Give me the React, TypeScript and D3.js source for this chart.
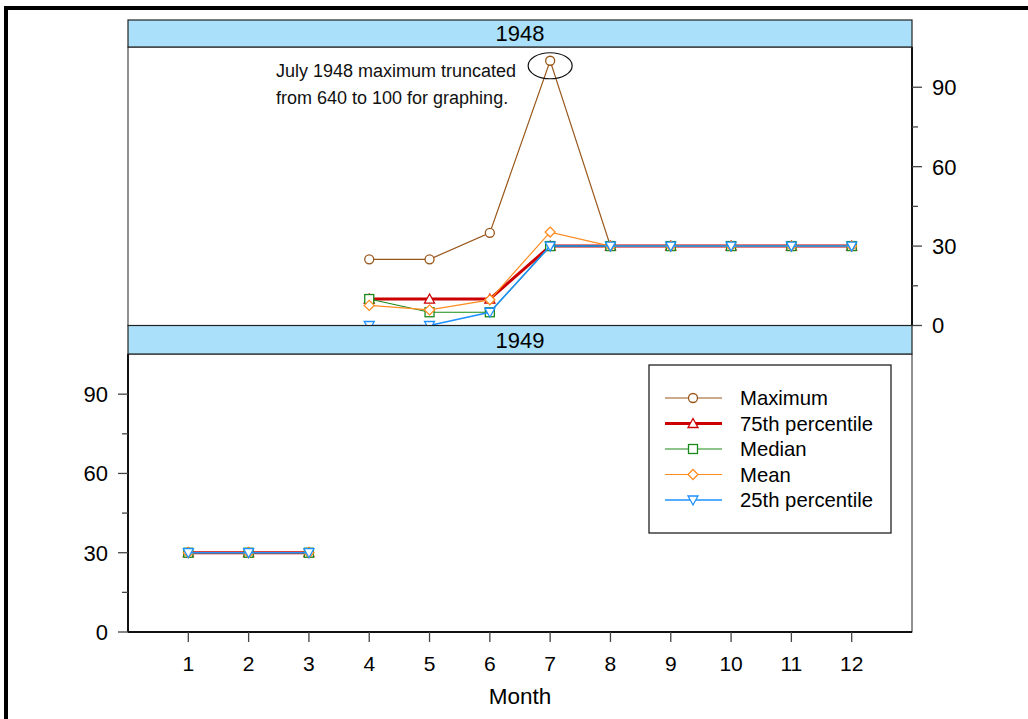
import React, { useEffect, useRef } from "react";
import * as d3 from "d3";

// months shown on the x axis
const months = [1, 2, 3, 4, 5, 6, 7, 8, 9, 10, 11, 12];
const yTicks = [0, 30, 60, 90];
const yMinorTicks = [15, 45, 75];

// 1948 panel (months 4-12)
const months1948 = [4, 5, 6, 7, 8, 9, 10, 11, 12];
const max1948 = [25, 25, 35, 100, 30, 30, 30, 30, 30];
const p75_1948 = [10, 10, 10, 30, 30, 30, 30, 30, 30];
const median1948 = [10, 5, 5, 30, 30, 30, 30, 30, 30];
const mean1948 = [7.6, 5.9, 9.7, 35.3, 30, 30, 30, 30, 30];
const p25_1948 = [0, 0, 5, 30, 30, 30, 30, 30, 30];

// 1949 panel (months 1-3)
const months1949 = [1, 2, 3];
const max1949 = [30, 30, 30];
const p75_1949 = [30, 30, 30];
const median1949 = [30, 30, 30];
const mean1949 = [30, 30, 30];
const p25_1949 = [30, 30, 30];

const seriesNames = ["Maximum", "75th percentile", "Median", "Mean", "25th percentile"];

const styles = [
  { color: "#99561a", width: 1.2, marker: "circle" },
  { color: "#cc0000", width: 3, marker: "triangleUp" },
  { color: "#1a8a1a", width: 1.2, marker: "square" },
  { color: "#ff8c1f", width: 1.2, marker: "diamond" },
  { color: "#1e90ff", width: 1.5, marker: "triangleDown" },
];

const FONT = "'Liberation Sans', Arial, sans-serif";

const drawMarker = (g, type, x, y, color) => {
  let p;
  if (type === "circle") {
    p = g.append("circle").attr("cx", x).attr("cy", y).attr("r", 4.5);
  } else if (type === "square") {
    p = g.append("rect").attr("x", x - 4.5).attr("y", y - 4.5).attr("width", 9).attr("height", 9);
  } else if (type === "diamond") {
    p = g.append("path").attr("d", `M${x},${y - 5}L${x + 5},${y}L${x},${y + 5}L${x - 5},${y}Z`);
  } else if (type === "triangleUp") {
    p = g.append("path").attr("d", `M${x},${y - 5}L${x + 5},${y + 4}L${x - 5},${y + 4}Z`);
  } else {
    p = g.append("path").attr("d", `M${x - 5},${y - 4}L${x + 5},${y - 4}L${x},${y + 5}Z`);
  }
  p.attr("fill", "white").attr("stroke", color).attr("stroke-width", 1.3);
};

const App = () => {
  const ref = useRef(null);

  useEffect(() => {
    const svg = d3.select(ref.current);
    svg.selectAll("*").remove();

    const left = 128;
    const right = 912;
    const x = d3.scaleLinear().domain([0, 13]).range([left, right]);

    const panels = [
      {
        label: "1948",
        stripTop: 20,
        top: 47,
        bottom: 325.5,
        axis: "right",
        months: months1948,
        series: [max1948, p75_1948, median1948, mean1948, p25_1948],
      },
      {
        label: "1949",
        stripTop: 325.5,
        top: 354,
        bottom: 632,
        axis: "left",
        months: months1949,
        series: [max1949, p75_1949, median1949, mean1949, p25_1949],
      },
    ];

    panels.forEach((pn) => {
      const y = d3.scaleLinear().domain([0, 105.2]).range([pn.bottom, pn.top]);
      const g = svg.append("g");

      // panel frame
      g.append("rect")
        .attr("x", left)
        .attr("y", pn.top)
        .attr("width", right - left)
        .attr("height", pn.bottom - pn.top)
        .attr("fill", "white")
        .attr("stroke", "#222")
        .attr("stroke-width", 1);

      // y axis
      const ax = pn.axis === "right" ? right : left;
      const dir = pn.axis === "right" ? 1 : -1;
      g.append("line")
        .attr("x1", ax).attr("x2", ax)
        .attr("y1", pn.top).attr("y2", pn.bottom)
        .attr("stroke", "#111").attr("stroke-width", 2);
      yTicks.forEach((t) => {
        g.append("line")
          .attr("x1", ax).attr("x2", ax + dir * 10)
          .attr("y1", y(t)).attr("y2", y(t))
          .attr("stroke", "#444").attr("stroke-width", 1.3);
        g.append("text")
          .attr("x", ax + dir * 20)
          .attr("y", y(t))
          .attr("dy", "0.36em")
          .attr("text-anchor", pn.axis === "right" ? "start" : "end")
          .attr("font-family", FONT)
          .attr("font-size", 22)
          .text(t);
      });
      yMinorTicks.forEach((t) => {
        g.append("line")
          .attr("x1", ax).attr("x2", ax + dir * 6)
          .attr("y1", y(t)).attr("y2", y(t))
          .attr("stroke", "#444").attr("stroke-width", 1.3);
      });

      // series
      const line = d3.line().x((d) => x(d[0])).y((d) => y(d[1]));
      pn.series.forEach((vals, i) => {
        const st = styles[i];
        const pts = pn.months.map((m, j) => [m, vals[j]]);
        g.append("path")
          .attr("d", line(pts))
          .attr("fill", "none")
          .attr("stroke", st.color)
          .attr("stroke-width", st.width);
        pts.forEach((p) => drawMarker(g, st.marker, x(p[0]), y(p[1]), st.color));
      });

      if (pn.label === "1948") {
        const cx = x(7);
        const cy = y(100) + 5;
        g.append("ellipse")
          .attr("cx", cx).attr("cy", cy)
          .attr("rx", 22).attr("ry", 13)
          .attr("fill", "none").attr("stroke", "#111").attr("stroke-width", 1.2);
        const note = g.append("text")
          .attr("font-family", FONT)
          .attr("font-size", 18)
          .attr("fill", "#111");
        note.append("tspan").attr("x", 276).attr("y", 77).text("July 1948 maximum truncated");
        note.append("tspan").attr("x", 276).attr("y", 104).text("from 640 to 100 for graphing.");
      }

      // strip
      g.append("rect")
        .attr("x", left)
        .attr("y", pn.stripTop)
        .attr("width", right - left)
        .attr("height", pn.top - pn.stripTop)
        .attr("fill", "#aae0fa")
        .attr("stroke", "#222")
        .attr("stroke-width", 1.2);
      g.append("text")
        .attr("x", (left + right) / 2)
        .attr("y", (pn.stripTop + pn.top) / 2)
        .attr("dy", "0.36em")
        .attr("text-anchor", "middle")
        .attr("font-family", FONT)
        .attr("font-size", 22)
        .text(pn.label);
    });

    // x axis
    const xg = svg.append("g");
    xg.append("line")
      .attr("x1", left).attr("x2", right)
      .attr("y1", 632).attr("y2", 632)
      .attr("stroke", "#111").attr("stroke-width", 2);
    months.forEach((m) => {
      xg.append("line")
        .attr("x1", x(m)).attr("x2", x(m))
        .attr("y1", 632).attr("y2", 642)
        .attr("stroke", "#444").attr("stroke-width", 1.3);
      xg.append("text")
        .attr("x", x(m))
        .attr("y", 671)
        .attr("text-anchor", "middle")
        .attr("font-family", FONT)
        .attr("font-size", 21)
        .text(m);
    });
    xg.append("text")
      .attr("x", 520)
      .attr("y", 704)
      .attr("text-anchor", "middle")
      .attr("font-family", FONT)
      .attr("font-size", 22.5)
      .text("Month");

    // legend
    const lg = svg.append("g");
    lg.append("rect")
      .attr("x", 649).attr("y", 365)
      .attr("width", 242).attr("height", 168)
      .attr("fill", "white").attr("stroke", "#222").attr("stroke-width", 1.3);
    seriesNames.forEach((name, i) => {
      const st = styles[i];
      const ly = 398 + i * 25.5;
      lg.append("line")
        .attr("x1", 665).attr("x2", 722)
        .attr("y1", ly).attr("y2", ly)
        .attr("stroke", st.color).attr("stroke-width", st.width);
      drawMarker(lg, st.marker, 693, ly, st.color);
      lg.append("text")
        .attr("x", 740)
        .attr("y", ly)
        .attr("dy", "0.36em")
        .attr("font-family", FONT)
        .attr("font-size", 20.3)
        .text(name);
    });

    // outer frame (left + top edges)
    svg.append("path")
      .attr("d", "M6,719L6,8L1028,8")
      .attr("fill", "none")
      .attr("stroke", "black")
      .attr("stroke-width", 4);
  }, []);

  return (
    <svg
      ref={ref}
      width={1028}
      height={719}
      style={{ position: "absolute", left: 0, top: 0, display: "block", background: "white" }}
    />
  );
};

export default App;
